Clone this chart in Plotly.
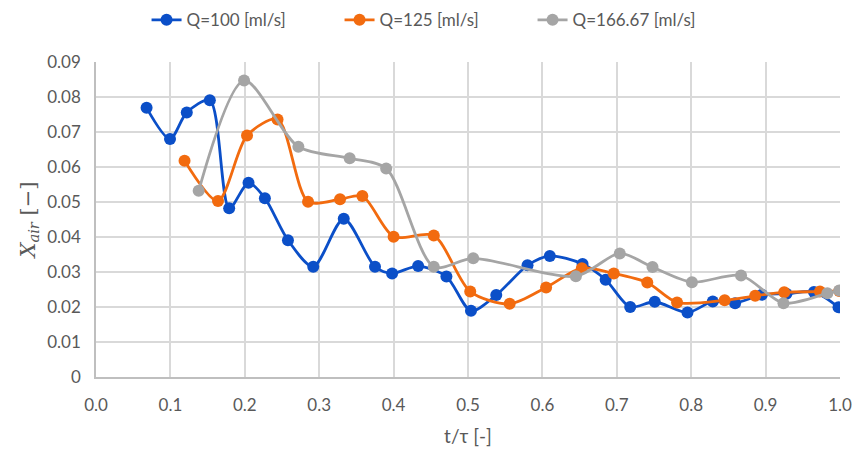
import plotly.graph_objects as go

# Data (t/tau, X_air)
t_q100 = [0.068, 0.0995, 0.122, 0.153, 0.179, 0.205, 0.227, 0.258, 0.292, 0.333, 0.375, 0.398,
          0.433, 0.471, 0.504, 0.538, 0.580, 0.610, 0.654, 0.685, 0.718, 0.751, 0.795, 0.829,
          0.859, 0.895, 0.928, 0.965, 0.998]
x_q100 = [0.0769, 0.0680, 0.0756, 0.0791, 0.0482, 0.0555, 0.0511, 0.0391, 0.0315, 0.0452, 0.0315,
          0.0296, 0.0317, 0.0287, 0.0189, 0.0234, 0.0319, 0.0346, 0.0323, 0.0278, 0.0200, 0.0215,
          0.0184, 0.0216, 0.0211, 0.0235, 0.0238, 0.0243, 0.0199]

t_q125 = [0.119, 0.164, 0.203, 0.244, 0.285, 0.328, 0.358, 0.400, 0.454, 0.503, 0.556, 0.605,
          0.653, 0.696, 0.741, 0.781, 0.845, 0.886, 0.925, 0.973, 0.999]
x_q125 = [0.0618, 0.0503, 0.0690, 0.0736, 0.0501, 0.0508, 0.0517, 0.0401, 0.0404, 0.0244, 0.0209,
          0.0256, 0.0311, 0.0296, 0.0270, 0.0213, 0.0219, 0.0232, 0.0242, 0.0244, 0.0246]

t_q167 = [0.138, 0.199, 0.272, 0.341, 0.390, 0.454, 0.507, 0.645, 0.704, 0.748, 0.801, 0.867,
          0.924, 0.983, 0.999]
x_q167 = [0.0532, 0.0847, 0.0658, 0.0625, 0.0596, 0.0315, 0.0339, 0.0288, 0.0353, 0.0314, 0.0271,
          0.0290, 0.0211, 0.0239, 0.0247]

series_names = ["Q=100 [ml/s]", "Q=125 [ml/s]", "Q=166.67 [ml/s]"]
colors = ["#0B4FC8", "#F26B0F", "#A5A5A5"]

y_tickvals = [0, 0.01, 0.02, 0.03, 0.04, 0.05, 0.06, 0.07, 0.08, 0.09]
y_ticktext = ["0", "0.01", "0.02", "0.03", "0.04", "0.05", "0.06", "0.07", "0.08", "0.09"]

fig = go.Figure()
for t, x, name, c in zip([t_q100, t_q125, t_q167], [x_q100, x_q125, x_q167], series_names, colors):
    fig.add_trace(go.Scatter(
        x=t, y=x, name=name, mode="lines+markers",
        line=dict(color=c, width=2.8, shape="spline", smoothing=0.8),
        marker=dict(color=c, size=12),
    ))

font_main = "Lato, 'Open Sans', sans-serif"
fig.update_layout(
    width=855, height=452,
    margin=dict(l=96, r=15, t=62, b=75, autoexpand=False),
    paper_bgcolor="white", plot_bgcolor="white",
    font=dict(family=font_main, size=17, color="#595959"),
    showlegend=True,
    legend=dict(orientation="h", xref="container", yref="container",
                x=0.51, xanchor="center", y=0.995, yanchor="top",
                font=dict(size=17, color="#595959"), entrywidth=148,
                traceorder="normal", itemclick=False),
    xaxis=dict(range=[0, 1.0], dtick=0.1, tick0=0, tickformat=".1f",
               showgrid=True, gridcolor="#D9D9D9", gridwidth=1.5,
               showline=True, linecolor="#BFBFBF", linewidth=1.5,
               zeroline=False, ticks="", ticklabelstandoff=12, automargin=False,
               title=dict(text="t/τ [-]", font=dict(size=19, color="#595959"), standoff=16)),
    yaxis=dict(range=[0, 0.09], tickvals=y_tickvals, ticktext=y_ticktext,
               showgrid=True, gridcolor="#D9D9D9", gridwidth=1.5,
               showline=True, linecolor="#BFBFBF", linewidth=1.5,
               zeroline=False, ticks="", ticklabelstandoff=10, automargin=False,
               title=dict(text="<i>X</i><sub><i>air</i></sub> [−]",
                          font=dict(family="'DejaVu Serif', 'Liberation Serif', serif", size=21,
                                    color="#595959"), standoff=6)),
)

fig.write_html("out.html")
